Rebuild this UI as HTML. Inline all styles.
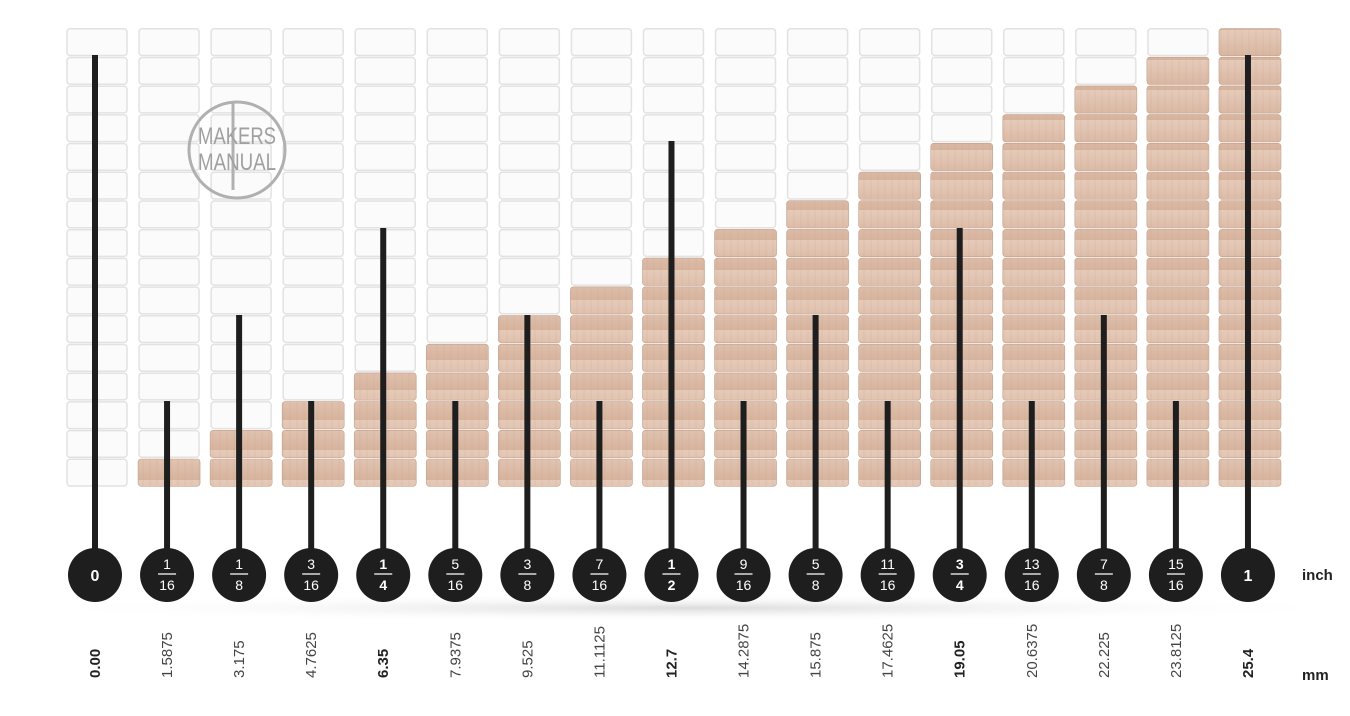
<!DOCTYPE html>
<html><head><meta charset="utf-8"><style>
body{margin:0;background:#fff;width:1350px;height:711px;overflow:hidden;font-family:"Liberation Sans",sans-serif}
</style></head><body>
<svg id="s" width="1350" height="711" xmlns="http://www.w3.org/2000/svg">
<defs>
<linearGradient id="wood" x1="0" x2="0" y1="0" y2="1"><stop offset="0" stop-color="#e6cbba"/><stop offset="1" stop-color="#d6b39d"/></linearGradient>
<pattern id="grain" width="7" height="30" patternUnits="userSpaceOnUse"><rect width="7" height="30" fill="url(#wood)"/><line x1="3" y1="0" x2="3" y2="30" stroke="#c9a58f" stroke-width="0.6" opacity="0.5"/></pattern>
<radialGradient id="sh" cx="0.5" cy="0.5" r="0.5"><stop offset="0" stop-color="#ccc" stop-opacity="0.7"/><stop offset="1" stop-color="#fff" stop-opacity="0"/></radialGradient>
</defs>
<ellipse cx="690" cy="608" rx="680" ry="14" fill="url(#sh)"/>
<g id="g"></g>
<g stroke="#1e1e1e" stroke-width="6">
<line x1="95" y1="55" x2="95" y2="552"/>
<line x1="167.06" y1="401" x2="167.06" y2="552"/>
<line x1="239.12" y1="315" x2="239.12" y2="552"/>
<line x1="311.18" y1="401" x2="311.18" y2="552"/>
<line x1="383.24" y1="228" x2="383.24" y2="552"/>
<line x1="455.3" y1="401" x2="455.3" y2="552"/>
<line x1="527.36" y1="315" x2="527.36" y2="552"/>
<line x1="599.42" y1="401" x2="599.42" y2="552"/>
<line x1="671.48" y1="141" x2="671.48" y2="552"/>
<line x1="743.54" y1="401" x2="743.54" y2="552"/>
<line x1="815.6" y1="315" x2="815.6" y2="552"/>
<line x1="887.66" y1="401" x2="887.66" y2="552"/>
<line x1="959.72" y1="228" x2="959.72" y2="552"/>
<line x1="1031.78" y1="401" x2="1031.78" y2="552"/>
<line x1="1103.84" y1="315" x2="1103.84" y2="552"/>
<line x1="1175.9" y1="401" x2="1175.9" y2="552"/>
<line x1="1247.96" y1="55" x2="1247.96" y2="552"/>
</g>
<g id="l"></g>
<g transform="translate(237,150)" stroke="#b0b0b0" fill="none" stroke-width="3">
<circle r="48"/><line x1="-4" y1="-48" x2="-4" y2="40"/>
<text x="0" y="-6" text-anchor="middle" fill="#a0a0a0" stroke="none" font-size="24" textLength="78" lengthAdjust="spacingAndGlyphs">MAKERS</text>
<text x="0" y="20" text-anchor="middle" fill="#a0a0a0" stroke="none" font-size="24" textLength="78" lengthAdjust="spacingAndGlyphs">MANUAL</text>
</g>
<text x="1302" y="580" font-size="15" font-weight="bold" fill="#222">inch</text>
<text x="1302" y="680" font-size="15" font-weight="bold" fill="#222">mm</text>
</svg>
<script>
var NS='http://www.w3.org/2000/svg';
function el(p,t,a,txt){var e=document.createElementNS(NS,t);for(var k in a)e.setAttribute(k,a[k]);if(txt!=null)e.textContent=txt;p.appendChild(e);return e;}
var g=document.getElementById('g'),L=document.getElementById('l');
var fr=[['0'],['1','16'],['1','8'],['3','16'],['1','4'],['5','16'],['3','8'],['7','16'],['1','2'],['9','16'],['5','8'],['11','16'],['3','4'],['13','16'],['7','8'],['15','16'],['1']];
var mm=['0.00','1.5875','3.175','4.7625','6.35','7.9375','9.525','11.1125','12.7','14.2875','15.875','17.4625','19.05','20.6375','22.225','23.8125','25.4'];
var sh=28.7;
for(var i=0;i<17;i++){
 var cx=95+i*72.06,x=cx-29,bold=(i%4==0);
 for(var k=0;k<16;k++){
  var y=487-(k+1)*sh;
  if(k<i) el(g,'rect',{x:x,y:y+0.7,width:62,height:sh-1.4,rx:3,fill:'url(#grain)',stroke:'#c4a08a','stroke-width':0.6});
  else el(g,'rect',{x:x+1,y:y+1,width:60,height:sh-2,rx:3,fill:'#fbfbfb',stroke:'#e2e2e2','stroke-width':1.5});
 }
 el(L,'circle',{cx:cx,cy:575,r:27,fill:'#1e1e1e'});
 var f=fr[i],fw=bold?'bold':'normal';
 if(f.length==1) el(L,'text',{x:cx,y:581,'text-anchor':'middle',fill:'#fff','font-size':16,'font-weight':'bold'},f[0]);
 else{
  el(L,'text',{x:cx,y:569,'text-anchor':'middle',fill:'#fff','font-size':14,'font-weight':fw},f[0]);
  el(L,'line',{x1:cx-9,x2:cx+9,y1:574,y2:574,stroke:'#fff','stroke-width':1.3});
  el(L,'text',{x:cx,y:590,'text-anchor':'middle',fill:'#fff','font-size':14,'font-weight':fw},f[1]);
 }
 el(L,'text',{transform:'translate('+(cx+5)+',678) rotate(-90)','font-size':15,fill:bold?'#222':'#444','font-weight':fw},mm[i]);
}
</script>
</body></html>
